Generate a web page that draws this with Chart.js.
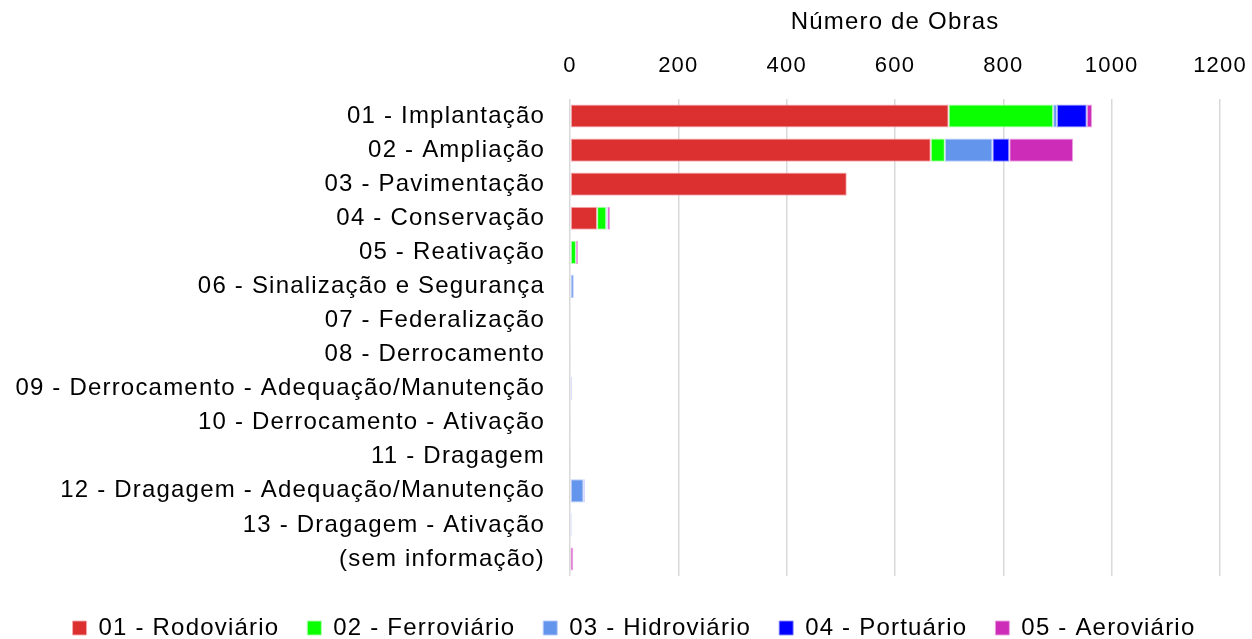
<!DOCTYPE html>
<html>
<head>
<meta charset="utf-8">
<script src="https://cdn.jsdelivr.net/npm/chart.js@4.4.1/dist/chart.umd.min.js"></script>
<style>
html,body{margin:0;padding:0;background:#fff;}
#wrap{width:1252px;height:639px;position:relative;}
</style>
</head>
<body>
<div id="wrap"><canvas id="c" width="1252" height="639"></canvas></div>
<script>
const categories = [
  "01 - Implantação",
  "02 - Ampliação",
  "03 - Pavimentação",
  "04 - Conservação",
  "05 - Reativação",
  "06 - Sinalização e Segurança",
  "07 - Federalização",
  "08 - Derrocamento",
  "09 - Derrocamento - Adequação/Manutenção",
  "10 - Derrocamento - Ativação",
  "11 - Dragagem",
  "12 - Dragagem - Adequação/Manutenção",
  "13 - Dragagem - Ativação",
  "(sem informação)"
];
const seriesNames = ["01 - Rodoviário", "02 - Ferroviário", "03 - Hidroviário", "04 - Portuário", "05 - Aeroviário"];
const rodoviario  = [699, 666, 511, 50, 0, 0, 0, 0, 0, 0, 0, 0, 0, 0];
const ferroviario = [193, 26, 0, 17, 11, 0, 0, 0, 0, 0, 0, 0, 0, 1];
const hidroviario = [7, 88, 0, 2, 0, 7, 0, 1, 2, 1, 0, 25, 3, 0];
const portuario   = [55, 31, 0, 0, 0, 0, 0, 0, 1, 0, 1, 2, 0, 0];
const aeroviario  = [10, 118, 0, 5, 4, 0, 0, 0, 0, 0, 0, 0, 0, 5];
const xTicks = [0, 200, 400, 600, 800, 1000, 1200];
const axisTitle = "Número de Obras";

const colors = ["#DC2F2F", "#0AFF00", "#6495ED", "#0000FF", "#CC2CB8"];
const borders = ["rgba(245,170,180,0.9)", "rgba(170,255,170,0.9)", "rgba(180,200,250,0.9)", "rgba(140,140,255,0.9)", "rgba(235,160,225,0.9)"];
const values = [rodoviario, ferroviario, hidroviario, portuario, aeroviario];

const FONT = "'Liberation Sans', Arial, sans-serif";

const spacingPlugin = {
  id: 'spacing',
  beforeInit(chart) { chart.ctx.letterSpacing = '1.2px'; },
  beforeUpdate(chart) { chart.ctx.letterSpacing = '1.2px'; },
  beforeDraw(chart) { chart.ctx.letterSpacing = '1.2px'; },
  afterLayout(chart) {
    const lg = chart.legend;
    if (lg) { lg.left += 24; lg.right += 24; }
  }
};

new Chart(document.getElementById('c'), {
  type: 'bar',
  plugins: [spacingPlugin],
  data: {
    labels: categories,
    datasets: values.map((v, i) => ({
      label: seriesNames[i],
      data: v,
      backgroundColor: colors[i],
      borderColor: borders[i],
      borderWidth: 1,
      borderSkipped: false,
      barPercentage: 0.85,
      categoryPercentage: 0.8
    }))
  },
  options: {
    indexAxis: 'y',
    responsive: false,
    animation: false,
    devicePixelRatio: 1,
    layout: { padding: { left: 0, right: 32, top: 0, bottom: -11 } },
    scales: {
      x: {
        position: 'top',
        stacked: true,
        min: 0,
        max: 1200,
        afterBuildTicks: (s) => { s.ticks = xTicks.map(v => ({ value: v })); },
        afterFit: (s) => { s.height = 99; s.paddingLeft = 0; s.paddingRight = 0; },
        ticks: {
          color: '#000',
          font: { family: FONT, size: 22 },
          padding: 20,
          maxRotation: 0,
          callback: (v) => String(v)
        },
        grid: { color: '#d9d9d9', lineWidth: 1.5, drawTicks: false },
        border: { display: false },
        title: {
          display: true,
          text: axisTitle,
          color: '#000',
          font: { family: FONT, size: 24 },
          padding: { top: 8, bottom: 6 }
        }
      },
      y: {
        stacked: true,
        afterFit: (s) => { s.width = 570; s.paddingTop = 0; s.paddingBottom = 0; },
        ticks: {
          color: '#000',
          font: { family: FONT, size: 24 },
          padding: 25,
          autoSkip: false
        },
        grid: { display: false, drawTicks: false },
        border: { display: false }
      }
    },
    plugins: {
      legend: {
        position: 'bottom',
        title: { display: true, text: ' ', font: { size: 10 }, padding: 0 },
        labels: {
          color: '#000',
          font: { family: FONT, size: 24 },
          boxWidth: 14,
          boxHeight: 14,
          padding: 28
        }
      },
      tooltip: { enabled: false }
    }
  }
});
</script>
</body>
</html>
